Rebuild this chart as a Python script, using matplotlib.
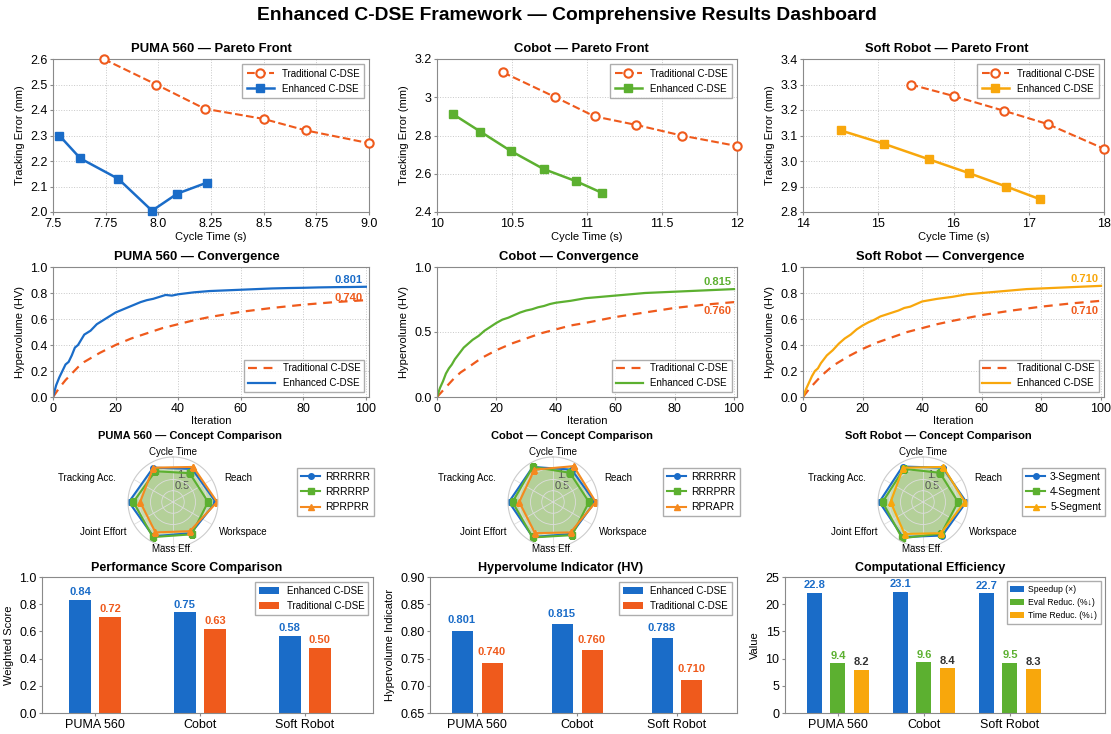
import numpy as np
import matplotlib
matplotlib.use("Agg")
import matplotlib.pyplot as plt
from matplotlib.ticker import FuncFormatter

plt.rcParams['font.family'] = ['Liberation Sans', 'DejaVu Sans']

W, H = 1111, 734

# ── Data ──────────────────────────────────────────────────────────────────────
robots = ["PUMA 560", "Cobot", "Soft Robot"]

# Pareto fronts (cycle time s, tracking error mm)
puma_trad_x = [7.74, 7.99, 8.22, 8.50, 8.70, 9.00]
puma_trad_y = [2.60, 2.50, 2.405, 2.365, 2.32, 2.27]
puma_enh_x = [7.53, 7.63, 7.81, 7.97, 8.09, 8.23]
puma_enh_y = [2.30, 2.21, 2.13, 2.005, 2.072, 2.115]

cobot_trad_x = [10.44, 10.79, 11.05, 11.33, 11.63, 12.00]
cobot_trad_y = [3.13, 3.00, 2.90, 2.855, 2.80, 2.745]
cobot_enh_x = [10.11, 10.29, 10.49, 10.71, 10.93, 11.10]
cobot_enh_y = [2.91, 2.82, 2.72, 2.625, 2.56, 2.50]

soft_trad_x = [15.43, 16.00, 16.67, 17.25, 18.00]
soft_trad_y = [3.30, 3.255, 3.197, 3.145, 3.048]
soft_enh_x = [14.50, 15.08, 15.67, 16.20, 16.70, 17.15]
soft_enh_y = [3.12, 3.067, 3.007, 2.953, 2.90, 2.85]

# Convergence (hypervolume vs iteration)
iters_enh = [0, 1, 2, 3, 4, 5, 6, 7, 8, 9, 10, 12, 14, 16, 18, 20, 22, 24, 26, 28,
             30, 32, 34, 36, 38, 40, 45, 50, 55, 60, 65, 70, 75, 80, 85, 90, 95, 100]
iters_trad = [0, 2, 4, 6, 8, 10, 15, 20, 25, 30, 35, 40, 45, 50, 60, 70, 80, 90, 100]

puma_hv_enh = [0.0, 0.09, 0.15, 0.20, 0.25, 0.27, 0.32, 0.38, 0.40, 0.44, 0.48, 0.51, 0.56,
               0.59, 0.62, 0.65, 0.67, 0.69, 0.71, 0.73, 0.745, 0.755, 0.77, 0.785, 0.78,
               0.79, 0.805, 0.815, 0.82, 0.825, 0.83, 0.835, 0.838, 0.84, 0.843, 0.845,
               0.846, 0.848]
puma_hv_trad = [0.0, 0.07, 0.13, 0.18, 0.23, 0.27, 0.34, 0.40, 0.45, 0.49, 0.53, 0.56,
                0.59, 0.615, 0.655, 0.685, 0.71, 0.73, 0.745]

cobot_hv_enh = [0.0, 0.07, 0.12, 0.18, 0.22, 0.25, 0.29, 0.32, 0.35, 0.38, 0.40, 0.44, 0.47,
                0.51, 0.54, 0.57, 0.595, 0.61, 0.63, 0.65, 0.665, 0.675, 0.69, 0.70, 0.715,
                0.725, 0.74, 0.76, 0.77, 0.78, 0.79, 0.80, 0.805, 0.81, 0.815, 0.82, 0.825,
                0.83]
cobot_hv_trad = [0.0, 0.05, 0.10, 0.15, 0.19, 0.22, 0.30, 0.36, 0.41, 0.45, 0.49, 0.52,
                 0.55, 0.57, 0.615, 0.65, 0.685, 0.71, 0.73]

soft_hv_enh = [0.0, 0.06, 0.11, 0.16, 0.20, 0.22, 0.26, 0.29, 0.32, 0.34, 0.36, 0.41, 0.45,
               0.48, 0.52, 0.55, 0.575, 0.595, 0.62, 0.635, 0.65, 0.665, 0.685, 0.695,
               0.715, 0.735, 0.755, 0.77, 0.79, 0.80, 0.81, 0.82, 0.83, 0.835, 0.84, 0.845,
               0.85, 0.855]
soft_hv_trad = [0.0, 0.06, 0.11, 0.16, 0.20, 0.24, 0.31, 0.37, 0.42, 0.46, 0.50, 0.53,
                0.56, 0.585, 0.63, 0.665, 0.695, 0.72, 0.74]

conv_enh_label = ["0.801", "0.815", "0.710"]
conv_trad_label = ["0.740", "0.760", "0.710"]

# Concept comparison radar (scores on a 0-2 radial scale)
radar_axes = ["Cycle Time", "Reach", "Workspace", "Mass Eff.", "Joint Effort", "Tracking Acc."]
puma_concepts = ["RRRRRR", "RRRRRP", "RPRPRR"]
puma_radar = [[1.70, 1.90, 1.60, 1.76, 1.96, 1.76],
              [1.48, 1.56, 1.66, 1.80, 1.76, 1.58],
              [1.80, 1.96, 1.50, 1.56, 1.46, 1.76]]
cobot_concepts = ["RRRRRR", "RRRPRR", "RPRAPR"]
cobot_radar = [[1.66, 1.86, 1.64, 1.80, 1.96, 1.80],
               [1.50, 1.60, 1.70, 1.82, 1.80, 1.80],
               [1.84, 1.90, 1.56, 1.60, 1.50, 1.66]]
soft_concepts = ["3-Segment", "4-Segment", "5-Segment"]
soft_radar = [[1.76, 1.92, 1.72, 1.80, 1.94, 1.82],
              [1.50, 1.56, 1.62, 1.86, 1.80, 1.70],
              [1.80, 1.86, 1.60, 1.64, 1.44, 1.76]]

# Bars
perf_enh = [0.83, 0.74, 0.565]
perf_trad = [0.705, 0.62, 0.48]
perf_enh_label = ["0.84", "0.75", "0.58"]
perf_trad_label = ["0.72", "0.63", "0.50"]

hv_enh = [0.801, 0.813, 0.787]
hv_trad = [0.742, 0.765, 0.711]
hv_enh_label = ["0.801", "0.815", "0.788"]
hv_trad_label = ["0.740", "0.760", "0.710"]

speedup = [22.1, 22.3, 22.0]
eval_red = [9.1, 9.3, 9.2]
time_red = [7.9, 8.2, 8.0]
speedup_label = ["22.8", "23.1", "22.7"]
eval_label = ["9.4", "9.6", "9.5"]
time_label = ["8.2", "8.4", "8.3"]

# ── Style ─────────────────────────────────────────────────────────────────────
BLUE = "#1a6cc8"
ORANGE = "#ef5a1c"
GREEN = "#5cb030"
YELLOW = "#f8a70c"
GRID = "#c8c8c8"
SPINE = "#8a8a8a"
TITLE_FS = 9.4


def px_axes(fig, x0, y0, x1, y1, **kw):
    return fig.add_axes([x0 / W, 1 - y1 / H, (x1 - x0) / W, (y1 - y0) / H], **kw)


def style_ax(ax):
    ax.grid(True, color=GRID, linestyle=":", linewidth=0.7)
    ax.set_axisbelow(True)
    for s in ax.spines.values():
        s.set_color(SPINE)
        s.set_linewidth(0.8)
    ax.tick_params(labelsize=9, length=2, color=SPINE, pad=2)


def legend(ax, **kw):
    opts = dict(fontsize=7, fancybox=False, edgecolor="#999999", handlelength=2.8)
    opts.update(kw)
    return ax.legend(**opts)


gfmt = FuncFormatter(lambda v, p: f"{v:g}")

fig = plt.figure(figsize=(W / 100, H / 100), dpi=100)
fig.patch.set_facecolor("white")
fig.text(567 / W, 1 - 16 / H, "Enhanced C-DSE Framework — Comprehensive Results Dashboard",
         ha="center", va="center", fontsize=13.9, fontweight="bold")

cols = [(53, 369), (437, 737), (803, 1104)]
enh_colors = [BLUE, GREEN, YELLOW]

# ── Row 1: Pareto fronts ──────────────────────────────────────────────────────
pareto = [
    (puma_trad_x, puma_trad_y, puma_enh_x, puma_enh_y, (7.5, 9.0), (2.0, 2.6),
     [7.5, 7.75, 8.0, 8.25, 8.5, 8.75, 9.0], ["7.5", "7.75", "8.0", "8.25", "8.5", "8.75", "9.0"],
     [2.0, 2.1, 2.2, 2.3, 2.4, 2.5, 2.6], None),
    (cobot_trad_x, cobot_trad_y, cobot_enh_x, cobot_enh_y, (10, 12), (2.4, 3.2),
     [10, 10.5, 11, 11.5, 12], None, [2.4, 2.6, 2.8, 3.0, 3.2], gfmt),
    (soft_trad_x, soft_trad_y, soft_enh_x, soft_enh_y, (14, 18), (2.8, 3.4),
     [14, 15, 16, 17, 18], None, [2.8, 2.9, 3.0, 3.1, 3.2, 3.3, 3.4], None),
]
row1_title_x = [0.5, 0.48, 0.477]
for i, (tx, ty, ex, ey, xl, yl, xt, xtl, yt, yf) in enumerate(pareto):
    ax = px_axes(fig, cols[i][0], 59, cols[i][1], 212)
    ax.plot(tx, ty, "--o", color=ORANGE, mfc="white", mec=ORANGE, mew=1.5, ms=6,
            lw=1.5, label="Traditional C-DSE", clip_on=False, zorder=3)
    ax.plot(ex, ey, "-s", color=enh_colors[i], ms=6, lw=1.8,
            label="Enhanced C-DSE", clip_on=False, zorder=3)
    ax.set_xlim(*xl)
    ax.set_ylim(*yl)
    ax.set_xticks(xt)
    if xtl:
        ax.set_xticklabels(xtl)
    else:
        ax.xaxis.set_major_formatter(gfmt)
    ax.set_yticks(yt)
    if yf:
        ax.yaxis.set_major_formatter(yf)
    ax.set_xlabel("Cycle Time (s)", fontsize=8, labelpad=2)
    ax.set_ylabel("Tracking Error (mm)", fontsize=8)
    ax.set_title(f"{robots[i]} — Pareto Front", fontsize=TITLE_FS, fontweight="bold", pad=5,
                 x=row1_title_x[i])
    style_ax(ax)
    legend(ax, loc="upper right", borderpad=0.5)

# ── Row 2: Convergence ────────────────────────────────────────────────────────
conv = [(puma_hv_enh, puma_hv_trad, 0.90, 0.76, [0, 0.2, 0.4, 0.6, 0.8, 1.0]),
        (cobot_hv_enh, cobot_hv_trad, 0.885, 0.66, [0, 0.5, 1.0]),
        (soft_hv_enh, soft_hv_trad, 0.91, 0.66, [0, 0.2, 0.4, 0.6, 0.8, 1.0])]
row2_title_x = [0.456, 0.44, 0.455]
for i, (he, ht, ye, yt_, yticks) in enumerate(conv):
    ax = px_axes(fig, cols[i][0], 267, cols[i][1], 397)
    ax.plot(iters_trad, ht, "--", color=ORANGE, lw=1.6, dashes=(4, 3), label="Traditional C-DSE")
    ax.plot(iters_enh, he, "-", color=enh_colors[i], lw=1.6, label="Enhanced C-DSE")
    ax.set_xlim(0, 101)
    ax.set_ylim(0, 1.0)
    ax.set_xticks([0, 20, 40, 60, 80, 100])
    ax.set_yticks(yticks)
    ax.yaxis.set_major_formatter(FuncFormatter(lambda v, p: f"{v:.1f}"))
    ax.set_xlabel("Iteration", fontsize=8, labelpad=1)
    ax.set_ylabel("Hypervolume (HV)", fontsize=8)
    ax.set_title(f"{robots[i]} — Convergence", fontsize=TITLE_FS, fontweight="bold", pad=5,
                 x=row2_title_x[i])
    ax.text(99, ye, conv_enh_label[i], color=enh_colors[i], fontsize=8, fontweight="bold",
            ha="right", va="center")
    ax.text(99, yt_, conv_trad_label[i], color=ORANGE, fontsize=8, fontweight="bold",
            ha="right", va="center")
    style_ax(ax)
    legend(ax, loc="lower right")

# ── Row 3: Radar ──────────────────────────────────────────────────────────────
radar = [(puma_concepts, puma_radar), (cobot_concepts, cobot_radar), (soft_concepts, soft_radar)]
centers = [173, 553, 923]
legend_x = [297, 663, 1022]
title_x = [190, 572, 938]
R = 45
cy = 502
# label placement around the web (pixel offsets from centre, alignment)
label_pos = [(0, -50, "center"), (51, -24, "left"), (46, 30, "left"),
             (-1, 47, "center"), (-46, 30, "right"), (-57, -24, "right")]
spoke_angles = np.linspace(0, 2 * np.pi, len(radar_axes), endpoint=False)
web_angles = spoke_angles + np.pi / 6   # vertices sit between the spokes in the reference
concept_colors = [BLUE, GREEN, "#f58a1f"]
concept_colors_soft = [BLUE, GREEN, YELLOW]
markers = ["o", "s", "^"]
for i, (names, vals) in enumerate(radar):
    cx = centers[i]
    ax = px_axes(fig, cx - R, cy - R, cx + R, cy + R, projection="polar")
    ax.set_theta_offset(np.pi / 2)
    ax.set_theta_direction(-1)
    ccols = concept_colors_soft if i == 2 else concept_colors
    for j, name in enumerate(names):
        v = list(vals[j]) + [vals[j][0]]
        a = list(web_angles) + [web_angles[0]]
        ax.plot(a, v, "-", marker=markers[j], color=ccols[j], lw=1.5, ms=4, label=name)
        ax.fill(a, v, color="#7fb050", alpha=0.25)
    ax.set_ylim(0, 2.0)
    ax.set_yticks([0.5, 1.0, 1.5])
    ax.set_yticklabels(["0.5", "1.0", ""], fontsize=8, color="#555555")
    ax.set_rlabel_position(10)
    ax.set_xticks(spoke_angles)
    ax.set_xticklabels([])
    ax.grid(color="#dddddd", linewidth=0.6)
    ax.spines["polar"].set_color("#cccccc")
    for lab, (dx, dy, ha) in zip(radar_axes, label_pos):
        fig.text((cx + dx) / W, 1 - (cy + dy) / H, lab, ha=ha, va="center", fontsize=7)
    fig.text(title_x[i] / W, 1 - 436 / H, f"{robots[i]} — Concept Comparison",
             ha="center", va="center", fontsize=8, fontweight="bold")
    ax.legend(loc="center left", bbox_to_anchor=(legend_x[i] / W, 1 - 492 / H),
              bbox_transform=fig.transFigure, fontsize=7.5, fancybox=False,
              edgecolor="#999999", handlelength=1.8, handletextpad=0.5, borderaxespad=0)

# ── Row 4: Bars ───────────────────────────────────────────────────────────────
x = np.arange(len(robots))

ax = px_axes(fig, 42, 577, 373, 713)
w = 0.21
b1 = ax.bar(x - 0.143, perf_enh, w, color=BLUE, label="Enhanced C-DSE")
b2 = ax.bar(x + 0.143, perf_trad, w, color=ORANGE, label="Traditional C-DSE")
for bars, labs, c in [(b1, perf_enh_label, BLUE), (b2, perf_trad_label, ORANGE)]:
    ax.bar_label(bars, labels=labs, padding=2, fontsize=8, fontweight="bold", color=c)
ax.set_xlim(-0.505, 2.65)
ax.set_ylim(0, 1.0)
ax.set_xticks(x)
ax.set_xticklabels(robots)
ax.set_ylabel("Weighted Score", fontsize=8)
ax.set_title("Performance Score Comparison", fontsize=9, fontweight="bold", pad=4, x=0.437)
style_ax(ax)
ax.grid(False)
legend(ax, loc="upper right", handlelength=2.0)

ax = px_axes(fig, 430, 577, 737, 713)
b1 = ax.bar(x - 0.15, hv_enh, w, color=BLUE, label="Enhanced C-DSE")
b2 = ax.bar(x + 0.15, hv_trad, w, color=ORANGE, label="Traditional C-DSE")
for bars, labs, c in [(b1, hv_enh_label, BLUE), (b2, hv_trad_label, ORANGE)]:
    ax.bar_label(bars, labels=labs, padding=4, fontsize=8, fontweight="bold", color=c)
ax.set_xlim(-0.47, 2.6)
ax.set_ylim(0.65, 0.90)
ax.set_xticks(x)
ax.set_xticklabels(robots)
ax.set_yticks([0.65, 0.70, 0.75, 0.80, 0.85, 0.90])
ax.yaxis.set_major_formatter(FuncFormatter(lambda v, p: f"{v:.2f}"))
ax.set_ylabel("Hypervolume Indicator", fontsize=8)
ax.set_title("Hypervolume Indicator (HV)", fontsize=9, fontweight="bold", pad=4, x=0.425)
style_ax(ax)
ax.grid(False)
legend(ax, loc="upper right", handlelength=2.0)

ax = px_axes(fig, 785, 577, 1105, 713)
w3 = 0.175
b1 = ax.bar(x - 0.27, speedup, w3, color=BLUE, label="Speedup (×)")
b2 = ax.bar(x, eval_red, w3, color=GREEN, label="Eval Reduc. (%↓)")
b3 = ax.bar(x + 0.27, time_red, w3, color=YELLOW, label="Time Reduc. (%↓)")
for bars, labs, c in [(b1, speedup_label, BLUE), (b2, eval_label, GREEN), (b3, time_label, "#333333")]:
    ax.bar_label(bars, labels=labs, padding=2, fontsize=8, fontweight="bold", color=c)
ax.set_xlim(-0.616, 3.105)
ax.set_ylim(0, 25)
ax.set_xticks(x)
ax.set_xticklabels(robots)
ax.set_ylabel("Value", fontsize=8)
ax.set_title("Computational Efficiency", fontsize=9, fontweight="bold", pad=4, x=0.453)
style_ax(ax)
ax.grid(False)
legend(ax, loc="upper right", fontsize=6.2, handlelength=1.6, borderpad=0.4,
       handletextpad=0.5)

fig.savefig("out.png", dpi=100, facecolor="white")
